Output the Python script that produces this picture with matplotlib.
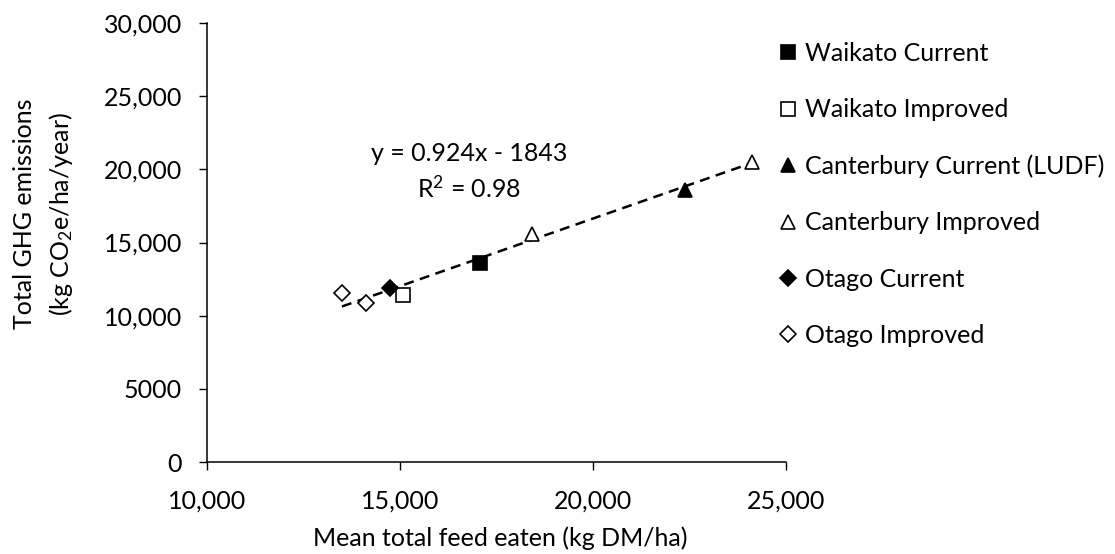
import matplotlib
matplotlib.use('Agg')
import matplotlib.pyplot as plt
import numpy as np

## -- data (kg DM/ha, kg CO2e/ha/year)
waikato_cur_x = [17085]
waikato_cur_y = [13600]
waikato_imp_x = [15079]
waikato_imp_y = [11400]
cant_cur_x = [22388]
cant_cur_y = [18590]
cant_imp_x = [18427, 24119]
cant_imp_y = [15585, 20530]
otago_cur_x = [14750]
otago_cur_y = [11870]
otago_imp_x = [13496, 14127]
otago_imp_y = [11530, 10850]

## -- trendline as printed on the chart
slope = 0.924
intercept = -1843
r2 = 0.98

xticks = [10000, 15000, 20000, 25000]
xticklabels = ['10,000', '15,000', '20,000', '25,000']
yticks = [0, 5000, 10000, 15000, 20000, 25000, 30000]
yticklabels = ['0', '5000', '10,000', '15,000', '20,000', '25,000', '30,000']

plt.rcParams['font.family'] = ['Lato', 'DejaVu Sans']
plt.rcParams['mathtext.fontset'] = 'custom'
plt.rcParams['mathtext.rm'] = 'Lato'
plt.rcParams['mathtext.it'] = 'Lato'
fs = 18

fig = plt.figure(figsize=(11.15, 5.54), dpi=100)
ax = fig.add_axes([207/1115, 1-462/554, (786-207)/1115, (462-23)/554])

## -- trendline over the range of the data
allx = np.array(waikato_cur_x + waikato_imp_x + cant_cur_x + cant_imp_x + otago_cur_x + otago_imp_x)
xt = np.array([allx.min(), allx.max()])
ax.plot(xt, slope*xt + intercept, color='k', lw=1.8, ls=(0, (4, 2.6)), zorder=1)

mk = dict(ls='None', mec='k', mew=1.2)
series = [
 (waikato_cur_x, waikato_cur_y, 's', 'k', 9.6, 'Waikato Current'),
 (waikato_imp_x, waikato_imp_y, 's', 'w', 9.6, 'Waikato Improved'),
 (cant_cur_x, cant_cur_y, '^', 'k', 9.8, 'Canterbury Current (LUDF)'),
 (cant_imp_x, cant_imp_y, '^', 'w', 9.8, 'Canterbury Improved'),
 (otago_cur_x, otago_cur_y, 'D', 'k', 7.8, 'Otago Current'),
 (otago_imp_x, otago_imp_y, 'D', 'w', 7.8, 'Otago Improved'),
]
handles = []
for sx, sy, m, fc, ms, lab in series:
 h, = ax.plot(sx, sy, marker=m, mfc=fc, ms=ms, label=lab, zorder=3, **mk)
 handles.append(h)

ax.set_xlim(10000, 25000)
ax.set_ylim(0, 30000)
ax.set_xticks(xticks)
ax.set_xticklabels(xticklabels)
ax.set_yticks(yticks)
ax.set_yticklabels(yticklabels)
ax.tick_params(axis='both', direction='out', length=6, width=1, labelsize=fs, colors='k')
ax.tick_params(axis='y', pad=12)
ax.tick_params(axis='x', pad=14)
for s in ['top', 'right']:
 ax.spines[s].set_visible(False)
for s in ['left', 'bottom']:
 ax.spines[s].set_linewidth(1.1)
 ax.spines[s].set_color('k')

ax.text(16780, 19850, 'y = %.3fx - %d\nR$^2$ = %.2f' % (slope, -intercept, r2),
 ha='center', va='center', fontsize=fs, linespacing=1.45)

fig.text(500/1115, 1-538/554, 'Mean total feed eaten (kg DM/ha)', ha='center', va='center', fontsize=fs)
fig.text(44/1115, 1-214/554, 'Total GHG emissions\n(kg CO$_2$e/ha/year)', ha='center', va='center',
 rotation=90, fontsize=fs, multialignment='center', linespacing=1.5)

fig.legend(handles=handles, loc='upper left', bbox_to_anchor=(779/1115, 1-42/554),
 frameon=False, fontsize=fs, handlelength=0.7, handletextpad=0.35, labelspacing=1.33,
 borderpad=0, borderaxespad=0, numpoints=1)

fig.savefig('out.png', dpi=100, facecolor='white')
